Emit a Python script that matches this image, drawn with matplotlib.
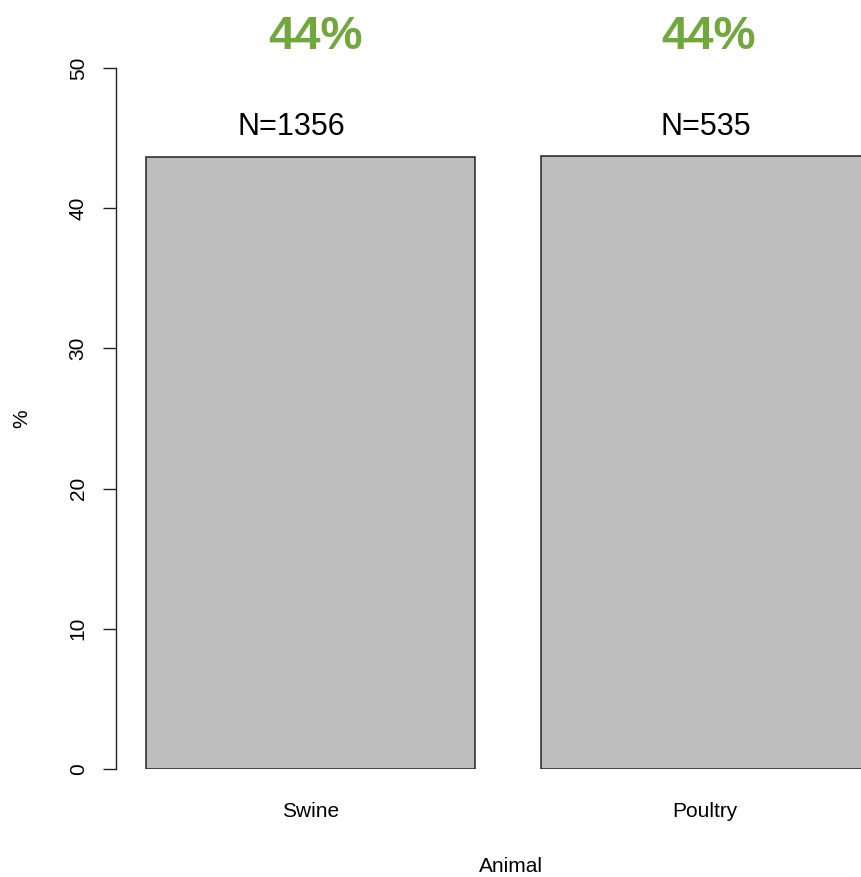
import numpy as np
import matplotlib
matplotlib.use('Agg')
import matplotlib.pyplot as plt

plt.rcParams['font.family'] = ['Liberation Sans', 'DejaVu Sans']

# data
animals = ['Swine', 'Poultry']
pct = [43.65, 43.72]
n_obs = [1356, 535]
pct_labels = ['44%', '44%']

# R barplot geometry: width 1, space 0.2
width = 1.0
space = 0.2
centers = np.array([space + width / 2 + i * (width + space) for i in range(len(animals))])

fig = plt.figure(figsize=(8.61, 8.77), dpi=100)
ax = fig.add_axes([116 / 861, (877 - 769) / 877, 1 - 116 / 861, 701 / 877])

ax.bar(centers, pct, width=width, color='#bebebe', edgecolor='#222222', linewidth=1.1)

ax.set_xlim(0.109, 2.373)
ax.set_ylim(0, 50)

for s in ['top', 'right', 'bottom']:
    ax.spines[s].set_visible(False)
ax.spines['left'].set_color('#222222')
ax.spines['left'].set_linewidth(1.0)

ax.set_yticks([0, 10, 20, 30, 40, 50])
ax.tick_params(axis='y', direction='out', length=9.4, width=1.0, color='#222222',
               pad=11, labelsize=15, labelrotation=90)
for lbl in ax.get_yticklabels():
    lbl.set_va('center')
ax.set_xticks(centers)
ax.set_xticklabels(animals)
ax.tick_params(axis='x', length=0, pad=24, labelsize=15)

# annotations above bars
n_off = [-0.058, 0.0]
p_off = [0.014, 0.01]
for i in range(len(animals)):
    ax.text(centers[i] + n_off[i], 45.8, 'N=%d' % n_obs[i], ha='center', va='center',
            fontsize=22, clip_on=False)
    ax.text(centers[i] + p_off[i], 52.2, pct_labels[i], ha='center', va='center',
            fontsize=34, fontweight='bold', color='#70a83b', clip_on=False)

ax.set_ylabel('%', fontsize=15, va='center')
ax.yaxis.set_label_coords(-0.126, 0.5)
ax.set_xlabel('Animal', fontsize=15, va='center')
ax.xaxis.set_label_coords((511 - 116) / 745, (769 - 867) / 701)

fig.savefig('out.png', dpi=100)
